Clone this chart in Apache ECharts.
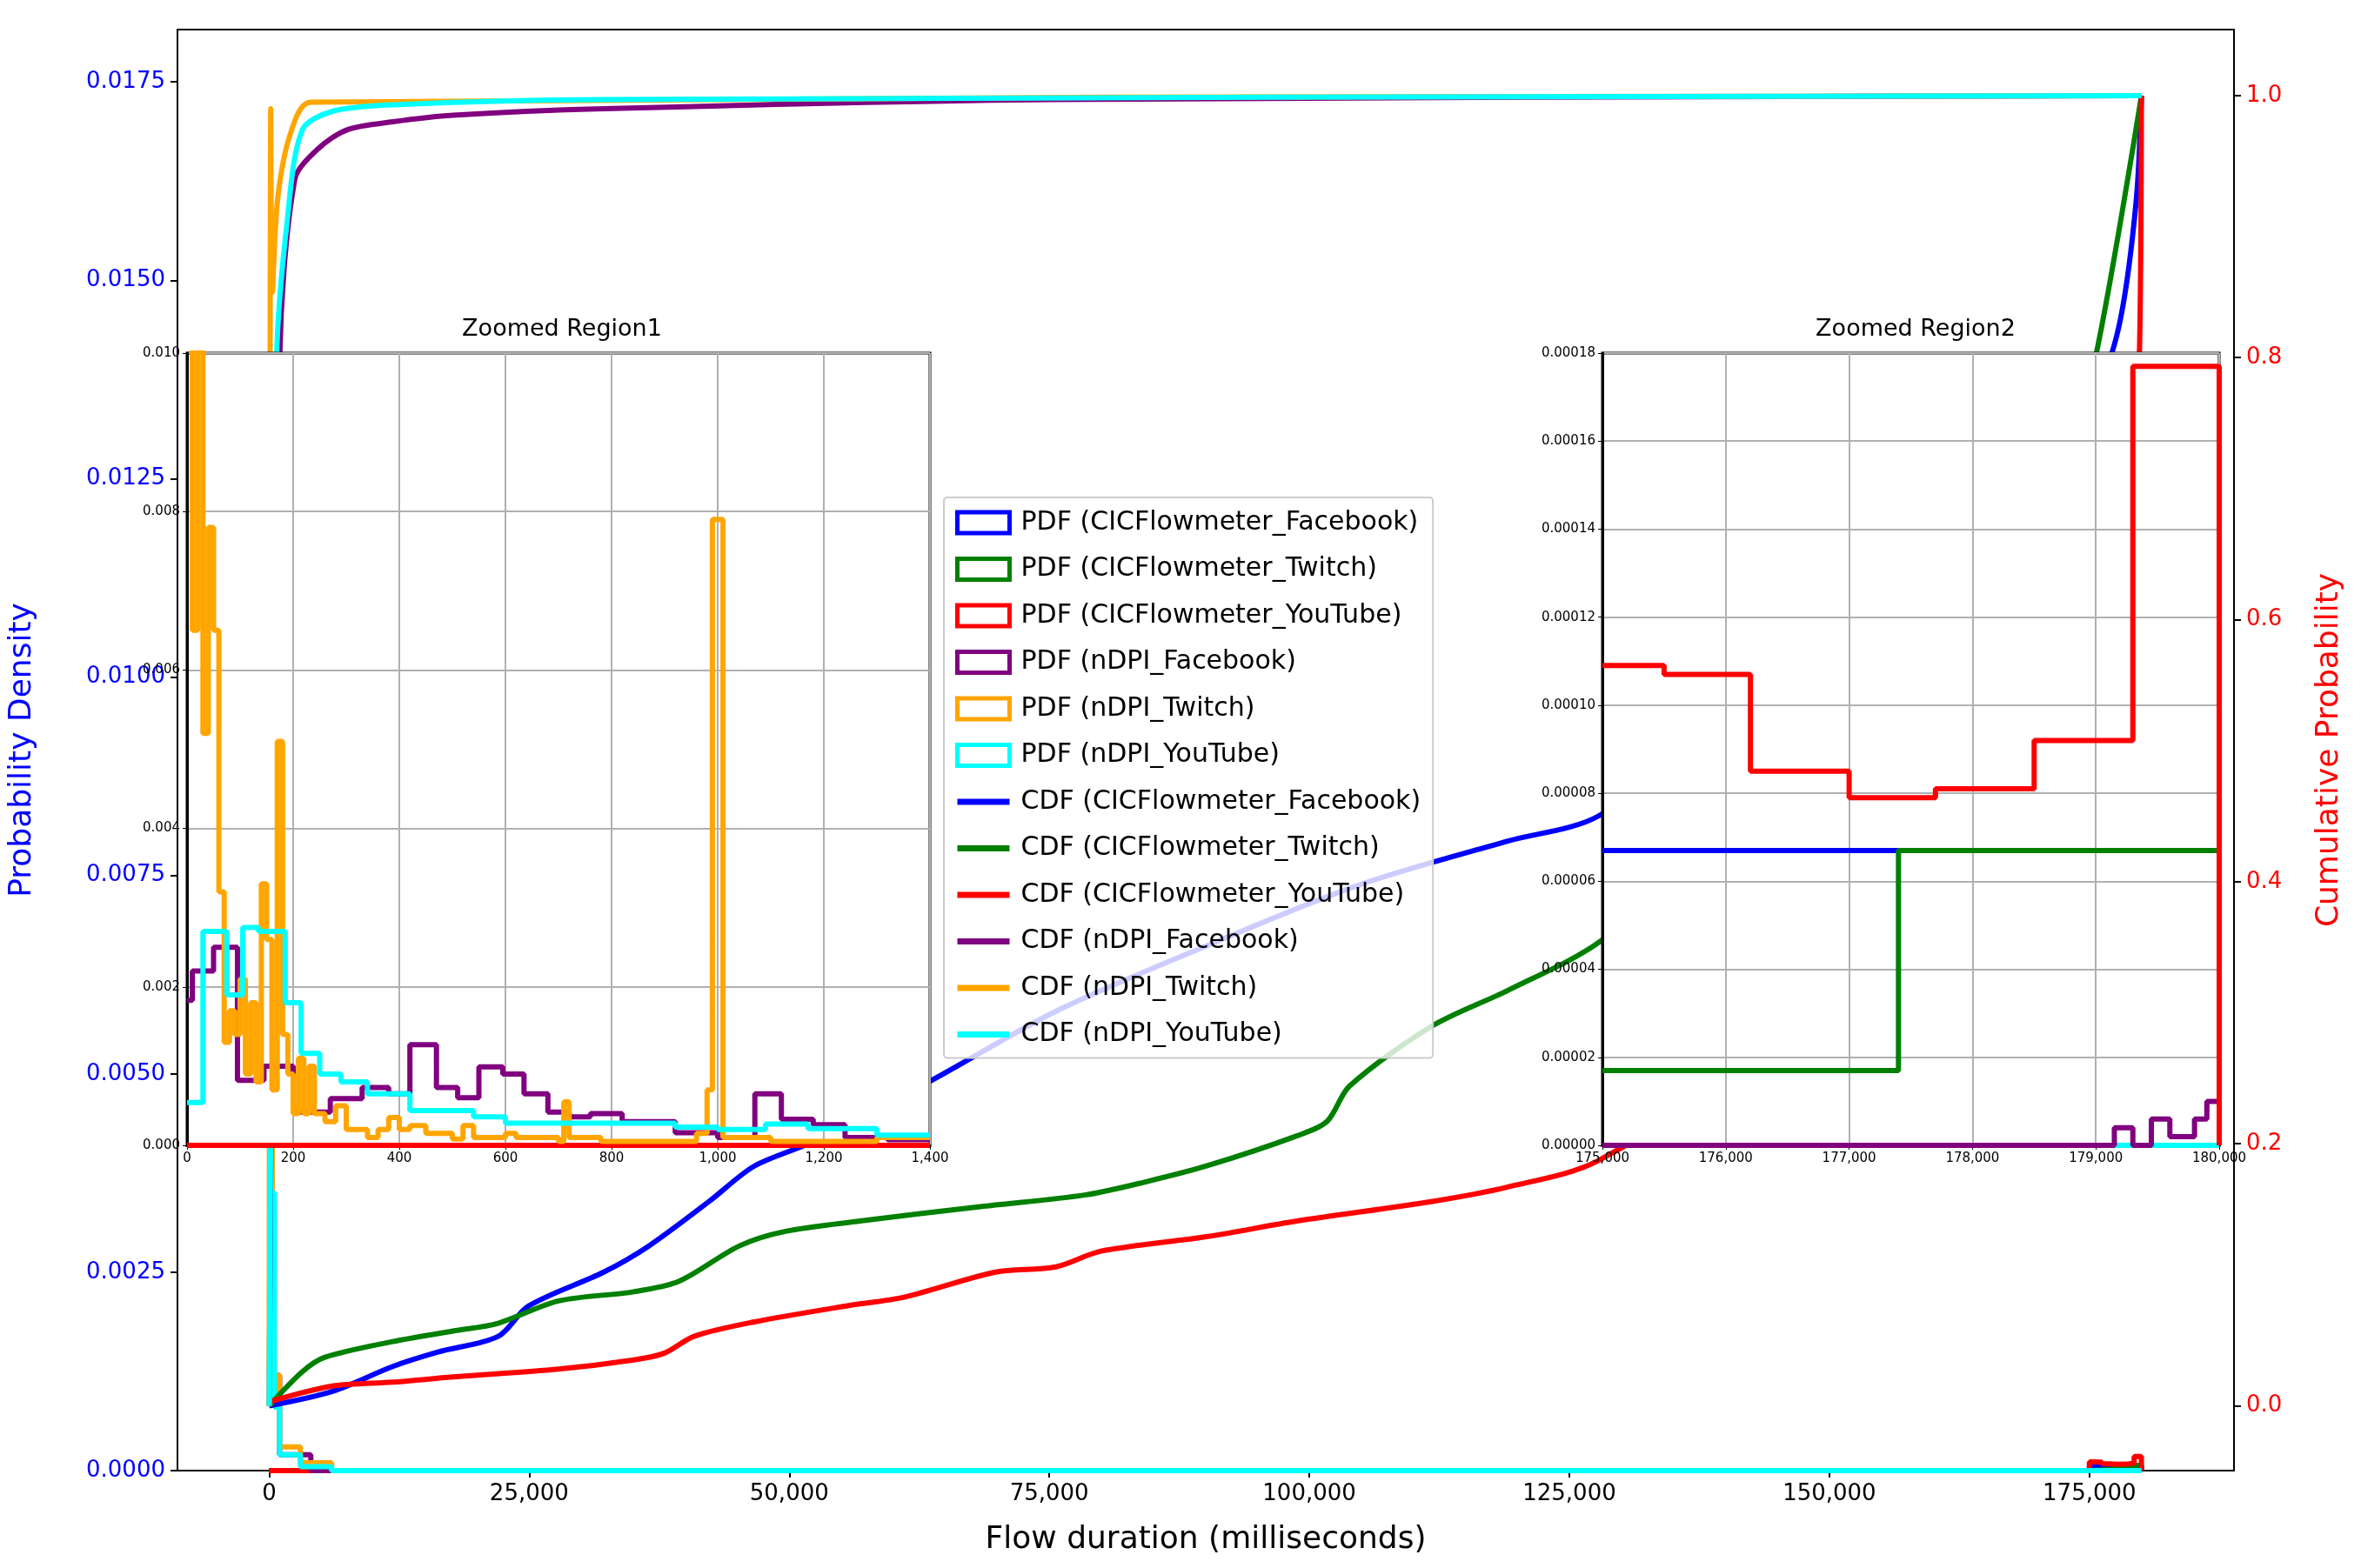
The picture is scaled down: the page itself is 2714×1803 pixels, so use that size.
<!DOCTYPE html>
<html>
<head>
<meta charset="utf-8">
<script src="https://cdn.jsdelivr.net/npm/echarts@6/dist/echarts.min.js"></script>
<style>html,body{margin:0;padding:0;background:#fff}#chart{width:2714px;height:1803px}</style>
</head>
<body>
<div id="chart"></div>
<script>
// CDF points [ms, cumulative]
var cdfCicFacebook = [[0,0],[6080,0.011],[11880,0.03],[16230,0.041],[22020,0.053],[24920,0.076],[32160,0.102],[36500,0.122],[42300,0.156],[46650,0.183],[52440,0.202],[63600,0.248],[75620,0.301],[90110,0.351],[104600,0.397],[119080,0.431],[127770,0.45],[150000,0.57],[170000,0.7],[176000,0.78],[178000,0.83],[179500,0.92],[180000,1]];
var cdfCicTwitch = [[0,0],[3190,0.026],[5360,0.037],[11880,0.049],[17670,0.057],[22020,0.063],[27810,0.08],[35050,0.087],[39400,0.095],[45200,0.122],[49540,0.133],[56790,0.141],[68380,0.152],[78520,0.161],[84310,0.171],[90110,0.183],[98800,0.206],[101700,0.217],[103870,0.244],[111840,0.29],[119080,0.317],[128060,0.355],[150000,0.5],[165000,0.62],[172000,0.7],[175580,0.8],[180000,1]];
var cdfCicYouTube = [[0,0.003],[6080,0.015],[11880,0.018],[17670,0.022],[27810,0.028],[35050,0.035],[37950,0.04],[40850,0.053],[46650,0.064],[55340,0.076],[61130,0.083],[69830,0.102],[75620,0.106],[79970,0.118],[90110,0.129],[98800,0.141],[111840,0.156],[119080,0.167],[127770,0.187],[150000,0.3],[170000,0.45],[177000,0.55],[179000,0.65],[179800,0.8],[180000,1]];
var cdfNdpiFacebook = [[0,0],[1010,0.8],[2460,0.936],[4640,0.959],[7530,0.974],[11880,0.98],[17670,0.985],[32160,0.99],[75000,0.997],[180000,1]];
var cdfNdpiTwitch = [[0,0],[150,0.99],[300,0.85],[800,0.92],[2000,0.97],[4000,0.995],[180000,1]];
var cdfNdpiYouTube = [[0,0],[720,0.8],[1740,0.905],[3190,0.974],[6080,0.988],[11880,0.993],[32160,0.997],[180000,1]];

// PDF bins [left edge, density], zoomed region 1 (0-1400 ms)
var pdfNdpiYouTube = [[0,0.00054],[30,0.0027],[75,0.0019],[105,0.00275],[135,0.0027],[185,0.0018],[215,0.00116],[250,0.0009],[290,0.0008],[340,0.00065],[420,0.00044],[540,0.00036],[600,0.00028],[920,0.00023],[1000,0.0002],[1090,0.00027],[1170,0.00021],[1300,0.00013],[1400,0.00013]];
var pdfNdpiFacebook = [[0,0.00183],[10,0.0022],[50,0.0025],[95,0.00082],[145,0.001],[200,0.00042],[270,0.00059],[330,0.00073],[380,0.00065],[420,0.00127],[470,0.00073],[510,0.0006],[550,0.00099],[595,0.0009],[635,0.00065],[680,0.00042],[720,0.00036],[760,0.0004],[820,0.0003],[920,0.00016],[1000,0.0001],[1070,0.00065],[1120,0.00033],[1180,0.00026],[1240,0.0001],[1320,0.00007],[1400,0.00007]];
var pdfNdpiTwitch = [[0,0.0105],[10,0.0065],[20,0.0105],[30,0.0052],[40,0.0078],[50,0.0065],[60,0.0032],[70,0.0013],[80,0.0017],[90,0.0014],[100,0.0021],[110,0.0009],[120,0.0018],[130,0.0008],[140,0.0033],[150,0.0026],[160,0.0007],[170,0.0051],[180,0.0014],[190,0.0009],[200,0.0004],[210,0.0011],[220,0.0004],[230,0.001],[240,0.0004],[260,0.0003],[280,0.0005],[300,0.0002],[340,0.0001],[360,0.0002],[380,0.00035],[400,0.0002],[420,0.00025],[450,0.00015],[500,0.00008],[520,0.00025],[540,0.0001],[600,0.00015],[620,0.0001],[700,0.00005],[710,0.00055],[720,0.0001],[760,0.0001],[780,0.00005],[960,0.00015],[980,0.0007],[990,0.0079],[1010,0.0001],[1100,0.00005],[1300,0.0001],[1400,0.0001]];

// PDF bins, zoomed region 2 (175000-180000 ms)
var pdfCicYouTube = [[175000,0.000109],[175500,0.000107],[176200,0.000085],[177000,0.000079],[177700,0.000081],[178500,0.000092],[179300,0.000177],[180000,0]];
var pdfCicFacebook = [[175000,0.000067],[180000,0]];
var pdfCicTwitch = [[175000,0.000017],[177400,0.000067],[180000,0]];
var pdfNdpiFacebookTail = [[175000,0],[179150,0.000004],[179300,0],[179450,0.000006],[179600,0.000002],[179800,0.000006],[179900,0.00001],[180000,0]];

// PDF over full range (main axes)
var pdfNdpiTwitchMain = [[0,0.0045],[300,0.0012],[1000,0.0003],[3000,0.0001],[6000,0],[180000,0]];
var pdfNdpiYouTubeMain = [[0,0.0035],[500,0.0008],[1000,0.0002],[3000,0.00005],[6000,0],[180000,0]];
var pdfNdpiFacebookMain = [[0,0.0012],[1000,0.0002],[4000,0],[180000,0]];

var xTicksMain = [0,25000,50000,75000,100000,125000,150000,175000];
var yTicksLeft = [0,0.0025,0.005,0.0075,0.01,0.0125,0.015,0.0175];
var yTicksRight = [0,0.2,0.4,0.6,0.8,1.0];

var names = ['PDF (CICFlowmeter_Facebook)','PDF (CICFlowmeter_Twitch)','PDF (CICFlowmeter_YouTube)','PDF (nDPI_Facebook)','PDF (nDPI_Twitch)','PDF (nDPI_YouTube)',
  'CDF (CICFlowmeter_Facebook)','CDF (CICFlowmeter_Twitch)','CDF (CICFlowmeter_YouTube)','CDF (nDPI_Facebook)','CDF (nDPI_Twitch)','CDF (nDPI_YouTube)'];
var colors = ['#0000ff','#008000','#ff0000','#800080','#ffa500','#00ffff'];
var FONT = 'DejaVu Sans';

function commas(v){ return String(v).replace(/\B(?=(\d{3})+(?!\d))/g, ','); }

function pdfLine(name, color, data, xi, yi, z){
  return {name:name, type:'line', step:'end', data:data, xAxisIndex:xi, yAxisIndex:yi,
    showSymbol:false, symbol:'none', z:z, lineStyle:{color:color, width:6}, itemStyle:{color:color}, animation:false};
}
function cdfLine(name, color, data){
  return {name:name, type:'line', smooth:0.3, data:data, xAxisIndex:0, yAxisIndex:1,
    showSymbol:false, symbol:'none', z:3, lineStyle:{color:color, width:6}, itemStyle:{color:color}, animation:false};
}

var series = [
  // main PDFs
  pdfLine(names[0], colors[0], [[0,0]].concat(pdfCicFacebook), 0, 0, 2),
  pdfLine(names[1], colors[1], [[0,0]].concat(pdfCicTwitch), 0, 0, 2),
  pdfLine(names[2], colors[2], [[0,0]].concat(pdfCicYouTube), 0, 0, 2),
  pdfLine(names[3], colors[3], pdfNdpiFacebookMain, 0, 0, 2),
  pdfLine(names[4], colors[4], pdfNdpiTwitchMain, 0, 0, 2),
  pdfLine(names[5], colors[5], pdfNdpiYouTubeMain, 0, 0, 2),
  cdfLine(names[6], colors[0], cdfCicFacebook),
  cdfLine(names[7], colors[1], cdfCicTwitch),
  cdfLine(names[8], colors[2], cdfCicYouTube),
  cdfLine(names[9], colors[3], cdfNdpiFacebook),
  cdfLine(names[10], colors[4], cdfNdpiTwitch),
  cdfLine(names[11], colors[5], cdfNdpiYouTube),
  // inset 1
  pdfLine(names[0], colors[0], [[0,0],[1400,0]], 1, 2, 12),
  pdfLine(names[1], colors[1], [[0,0],[1400,0]], 1, 2, 12),
  pdfLine(names[2], colors[2], [[0,0],[1400,0]], 1, 2, 12),
  pdfLine(names[3], colors[3], pdfNdpiFacebook, 1, 2, 12),
  pdfLine(names[4], colors[4], pdfNdpiTwitch, 1, 2, 12),
  pdfLine(names[5], colors[5], pdfNdpiYouTube, 1, 2, 12),
  // inset 2
  pdfLine(names[5], colors[5], [[175000,0],[180000,0]], 2, 3, 12),
  pdfLine(names[3], colors[3], pdfNdpiFacebookTail, 2, 3, 12),
  pdfLine(names[0], colors[0], pdfCicFacebook, 2, 3, 12),
  pdfLine(names[1], colors[1], pdfCicTwitch, 2, 3, 12),
  pdfLine(names[2], colors[2], pdfCicYouTube, 2, 3, 12)
];

var legendData = names.map(function(n, i){
  if (i < 6) return {name:n, icon:'rect', itemStyle:{color:'#fff', borderColor:colors[i], borderWidth:5}};
  return {name:n, itemStyle:{opacity:0}, lineStyle:{width:7}};
});

var tickFont = {fontFamily:FONT, fontSize:26};
var smallFont = {fontFamily:FONT, fontSize:15, color:'#000'};
var gridLine = {show:true, lineStyle:{color:'#b0b0b0', width:2}};

var chart = echarts.init(document.getElementById('chart'));
chart.setOption({
  backgroundColor:'#fff',
  animation:false,
  title:[
    {text:'Zoomed Region1', left:641, top:360, textAlign:'center', textStyle:{fontFamily:FONT, fontSize:27, fontWeight:'normal', color:'#000'}},
    {text:'Zoomed Region2', left:2197, top:360, textAlign:'center', textStyle:{fontFamily:FONT, fontSize:27, fontWeight:'normal', color:'#000'}}
  ],
  legend:{
    data:legendData, orient:'vertical', left:1085, top:572, z:20,
    itemWidth:60, itemHeight:24, itemGap:23.5, padding:[14,14,12,12],
    backgroundColor:'rgba(255,255,255,0.8)', borderColor:'#cccccc', borderWidth:2, borderRadius:4,
    textStyle:{fontFamily:FONT, fontSize:30, color:'#000', padding:[0,0,0,8]}
  },
  grid:[
    {left:203, right:146, top:34, bottom:112, show:true, borderColor:'#000', borderWidth:2, backgroundColor:'transparent', z:0},
    {left:215, width:854, top:406, height:911, show:true, borderColor:'#000', borderWidth:3, backgroundColor:'#fff', z:10},
    {left:1842, width:709, top:406, height:911, show:true, borderColor:'#000', borderWidth:3, backgroundColor:'#fff', z:10}
  ],
  xAxis:[
    {type:'value', gridIndex:0, min:-8820, max:188900, splitLine:{show:false},
      name:'Flow duration (milliseconds)', nameLocation:'middle', nameGap:62, nameTextStyle:{fontFamily:FONT, fontSize:36, color:'#000'},
      axisLine:{onZero:false, lineStyle:{color:'#000', width:2}}, axisTick:{customValues:xTicksMain, length:8, lineStyle:{color:'#000', width:2}},
      axisLabel:Object.assign({customValues:xTicksMain, color:'#000', margin:14, formatter:commas}, tickFont)},
    {type:'value', gridIndex:1, min:0, max:1400, interval:200, z:11, splitLine:gridLine,
      axisLine:{onZero:false, lineStyle:{color:'#000', width:3}}, axisTick:{length:5, lineStyle:{color:'#000'}},
      axisLabel:Object.assign({margin:8}, smallFont)},
    {type:'value', gridIndex:2, min:175000, max:180000, interval:1000, z:11, splitLine:gridLine,
      axisLine:{onZero:false, lineStyle:{color:'#000', width:3}}, axisTick:{length:5, lineStyle:{color:'#000'}},
      axisLabel:Object.assign({margin:8, formatter:commas}, smallFont)}
  ],
  yAxis:[
    {type:'value', gridIndex:0, min:0, max:0.01816, splitLine:{show:false},
      name:'Probability Density', nameLocation:'middle', nameGap:160, nameTextStyle:{fontFamily:FONT, fontSize:36, color:'#0000ff'},
      axisLine:{show:true, onZero:false, lineStyle:{color:'#000', width:2}}, axisTick:{show:true, customValues:yTicksLeft, length:8, lineStyle:{color:'#000', width:2}},
      axisLabel:Object.assign({customValues:yTicksLeft, color:'#0000ff', margin:14, formatter:function(v){return v.toFixed(4);}}, tickFont)},
    {type:'value', gridIndex:0, position:'right', min:-0.0495, max:1.0504, splitLine:{show:false},
      name:'Cumulative Probability', nameLocation:'middle', nameGap:92, nameTextStyle:{fontFamily:FONT, fontSize:36, color:'#ff0000'},
      axisLine:{show:true, onZero:false, lineStyle:{color:'#000', width:2}}, axisTick:{show:true, customValues:yTicksRight, length:8, lineStyle:{color:'#000', width:2}},
      axisLabel:Object.assign({customValues:yTicksRight, color:'#ff0000', margin:14, formatter:function(v){return v.toFixed(1);}}, tickFont)},
    {type:'value', gridIndex:1, min:0, max:0.010, interval:0.002, z:11, splitLine:gridLine,
      axisLine:{show:true, onZero:false, lineStyle:{color:'#000', width:3}}, axisTick:{show:true, length:5, lineStyle:{color:'#000'}},
      axisLabel:Object.assign({margin:8, formatter:function(v){return v.toFixed(3);}}, smallFont)},
    {type:'value', gridIndex:2, min:0, max:0.00018, interval:0.00002, z:11, splitLine:gridLine,
      axisLine:{show:true, onZero:false, lineStyle:{color:'#000', width:3}}, axisTick:{show:true, length:5, lineStyle:{color:'#000'}},
      axisLabel:Object.assign({margin:8, formatter:function(v){return v.toFixed(5);}}, smallFont)}
  ],
  series:series
});
</script>
</body>
</html>
